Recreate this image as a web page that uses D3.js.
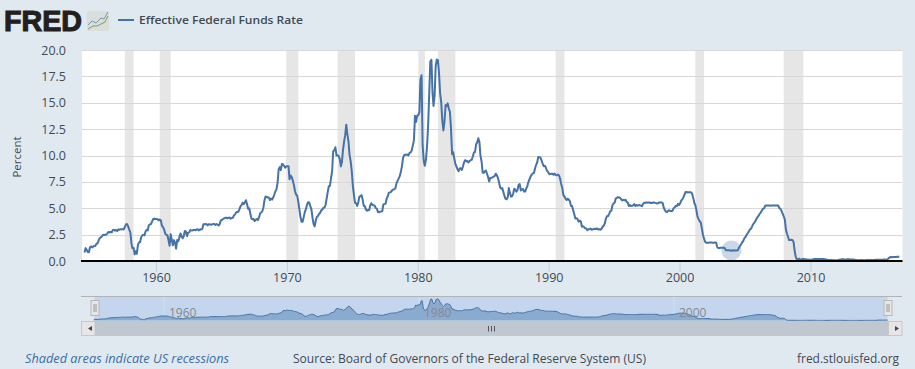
<!DOCTYPE html>
<html><head><meta charset="utf-8">
<script src="https://cdn.jsdelivr.net/npm/d3@7"></script>
<style>html,body{margin:0;padding:0;background:#e1e9f0;overflow:hidden}svg{display:block}text{font-family:"Open Sans",sans-serif}</style>
</head><body><div id="c"></div>
<script>
const seriesName = "Effective Federal Funds Rate";
const startMonth = "1954-07";
const rate = [
0.80,1.22,1.06,0.85,0.83,1.28,
1.39,1.29,1.35,1.43,1.43,1.64,1.68,1.96,2.18,2.24,2.35,2.48,
2.45,2.50,2.50,2.62,2.75,2.71,2.75,2.73,2.95,2.96,2.88,2.94,
2.84,3.00,2.96,3.00,3.00,3.00,2.99,3.24,3.47,3.50,3.28,2.98,
2.72,1.67,1.20,1.26,0.63,0.93,0.68,1.53,1.76,1.80,2.27,2.42,
2.48,2.43,2.80,2.96,2.90,3.39,3.47,3.50,3.76,3.98,4.00,3.99,
3.99,3.97,3.84,3.92,3.85,3.32,3.23,2.98,2.60,2.47,2.44,1.98,
1.45,2.54,2.02,1.49,1.98,1.73,1.17,2.00,1.88,2.26,2.61,2.33,
2.15,2.37,2.85,2.78,2.36,2.68,2.71,2.93,2.90,2.90,2.94,2.93,
2.91,3.00,2.98,2.90,3.00,2.99,3.02,3.49,3.48,3.50,3.48,3.38,
3.48,3.48,3.43,3.47,3.50,3.50,3.42,3.50,3.45,3.36,3.52,3.85,
3.90,3.98,4.04,4.09,4.10,4.05,4.09,4.12,4.01,4.08,4.10,4.32,
4.42,4.60,4.65,4.67,4.90,5.17,5.30,5.53,5.40,5.53,5.76,5.40,
4.94,5.00,4.53,4.05,3.94,3.98,3.79,3.90,3.99,3.88,4.13,4.51,
4.61,4.71,5.05,5.76,6.11,6.07,6.02,6.03,5.78,5.91,5.82,6.02,
6.30,6.61,6.79,7.41,8.67,8.90,8.61,9.19,9.15,9.00,8.85,8.97,
8.98,8.98,7.76,8.10,7.95,7.61,7.21,6.61,6.29,6.20,5.60,4.90,
4.14,3.72,3.71,4.16,4.63,4.91,5.31,5.57,5.55,5.20,4.91,4.14,
3.50,3.29,3.83,4.17,4.27,4.46,4.55,4.80,4.87,5.04,5.06,5.33,
5.94,6.58,7.09,7.12,7.84,8.49,10.40,10.50,10.78,10.01,10.03,9.95,
9.65,8.97,9.35,10.51,11.31,11.93,12.92,12.01,11.34,10.06,9.45,8.53,
7.13,6.24,5.54,5.49,5.22,5.55,6.10,6.14,6.24,5.82,5.22,5.20,
4.87,4.77,4.84,4.82,5.29,5.48,5.31,5.29,5.25,5.02,4.95,4.65,
4.61,4.68,4.69,4.73,5.35,5.39,5.42,5.90,6.14,6.47,6.51,6.56,
6.70,6.78,6.79,6.89,7.36,7.60,7.81,8.04,8.45,8.96,9.76,10.03,
10.07,10.06,10.09,10.01,10.24,10.29,10.47,10.94,11.43,13.77,13.18,13.78,
13.82,14.13,17.19,17.61,10.98,9.47,9.03,9.61,10.87,12.81,15.85,18.90,
19.08,15.93,14.70,15.72,18.52,19.10,19.04,17.82,15.87,15.08,13.31,12.37,
13.22,14.78,14.68,14.94,14.45,14.15,12.59,10.12,10.31,9.71,9.20,8.95,
8.68,8.51,8.77,8.80,8.63,8.98,9.37,9.56,9.45,9.48,9.34,9.47,
9.56,9.59,9.91,10.29,10.32,11.06,11.23,11.64,11.30,9.99,9.43,8.38,
8.35,8.50,8.58,8.27,7.97,7.53,7.88,7.90,7.92,7.99,8.05,8.27,
8.14,7.86,7.48,6.99,6.85,6.92,6.56,6.17,5.89,5.85,6.04,6.91,
6.43,6.10,6.13,6.37,6.85,6.73,6.58,6.73,7.22,7.29,6.69,6.77,
6.83,6.58,6.58,6.87,7.09,7.51,7.75,8.01,8.19,8.30,8.35,8.76,
9.12,9.36,9.85,9.84,9.81,9.53,9.24,8.99,9.02,8.84,8.55,8.45,
8.23,8.24,8.28,8.26,8.18,8.29,8.15,8.13,8.20,8.11,7.81,7.31,
6.91,6.25,6.12,5.91,5.78,5.90,5.82,5.66,5.22,5.21,4.81,4.43,
4.03,4.06,3.98,3.73,3.82,3.76,3.25,3.30,3.22,3.10,3.09,2.92,
3.02,3.03,3.07,2.96,3.00,3.04,3.06,3.03,3.09,2.99,3.02,2.96,
3.05,3.25,3.34,3.56,4.01,4.25,4.26,4.47,4.73,4.76,5.29,5.45,
5.53,5.92,5.98,6.05,6.01,6.00,5.85,5.74,5.80,5.76,5.80,5.60,
5.56,5.22,5.31,5.22,5.24,5.27,5.40,5.22,5.30,5.24,5.31,5.29,
5.25,5.19,5.39,5.51,5.50,5.56,5.52,5.54,5.54,5.50,5.52,5.50,
5.56,5.51,5.49,5.45,5.49,5.56,5.54,5.55,5.51,5.07,4.83,4.68,
4.63,4.76,4.81,4.74,4.74,4.76,4.99,5.07,5.22,5.20,5.42,5.30,
5.45,5.73,5.85,6.02,6.27,6.53,6.54,6.50,6.52,6.51,6.51,6.40,
5.98,5.49,5.31,4.80,4.21,3.97,3.77,3.65,3.07,2.49,2.09,1.82,
1.73,1.74,1.73,1.75,1.75,1.75,1.73,1.74,1.75,1.75,1.34,1.24,
1.24,1.26,1.25,1.26,1.26,1.22,1.01,1.03,1.01,1.01,1.00,0.98,
1.00,1.01,1.00,1.00,1.00,1.03,1.26,1.43,1.61,1.76,1.93,2.16,
2.28,2.50,2.63,2.79,3.00,3.04,3.26,3.50,3.62,3.78,4.00,4.16,
4.29,4.49,4.59,4.79,4.94,4.99,5.24,5.25,5.25,5.25,5.25,5.24,
5.25,5.26,5.26,5.25,5.25,5.25,5.26,5.02,4.94,4.76,4.49,4.24,
3.94,2.98,2.61,2.28,1.98,2.00,2.01,2.00,1.81,0.97,0.39,0.16,
0.15,0.22,0.18,0.15,0.18,0.21,0.16,0.16,0.15,0.12,0.12,0.12,
0.11,0.13,0.16,0.20,0.20,0.18,0.18,0.19,0.19,0.19,0.19,0.18,
0.17,0.16,0.14,0.10,0.09,0.09,0.07,0.10,0.08,0.07,0.08,0.07,
0.08,0.10,0.13,0.14,0.16,0.16,0.16,0.13,0.14,0.16,0.16,0.16,
0.14,0.15,0.14,0.15,0.11,0.09,0.09,0.08,0.08,0.09,0.08,0.09,
0.07,0.07,0.08,0.09,0.09,0.10,0.09,0.09,0.09,0.09,0.09,0.12,
0.11,0.11,0.11,0.12,0.12,0.13,0.13,0.14,0.14,0.12,0.12,0.24,
0.34,0.38,0.36,0.37,0.37,0.38,0.39,0.40,0.40,0.40
];
const recessionStarts = ["1957-08","1960-04","1969-12","1973-11","1980-01","1981-07","1990-07","2001-03","2007-12"];
const recessionEnds   = ["1958-04","1961-02","1970-11","1975-03","1980-07","1982-11","1991-03","2001-11","2009-06"];
const yTicks = [0,2.5,5,7.5,10,12.5,15,17.5,20];
const xTickYears = [1960,1970,1980,1990,2000,2010];
const navTickYears = [1960,1980,2000];
const hoverMonth = "2003-12", hoverValue = 1.0;

const W=915,H=369, parse=d3.timeParse("%Y-%m");
const start=parse(startMonth);
const data=rate.map((v,i)=>({d:d3.timeMonth.offset(start,i),v}));
const yr=y=>new Date(y,0,1);
const svg=d3.select("#c").append("svg").attr("width",W).attr("height",H);
const ink="#3f4a55", blue="#4572a7";

// main plot
const x=d3.scaleTime().domain([yr(1960),yr(2010)]).range([156.5,811]);
const y=d3.scaleLinear().domain([0,20]).range([261,50]);
const L=82,R=902.5;
svg.append("rect").attr("x",L).attr("y",50).attr("width",R-L).attr("height",211).attr("fill","#fff");
const rec=recessionStarts.map((s,i)=>[parse(s),parse(recessionEnds[i])]);
svg.selectAll(".rec").data(rec).join("rect").attr("x",d=>x(d[0])).attr("y",50)
  .attr("width",d=>x(d[1])-x(d[0])).attr("height",211).attr("fill","#e6e6e6");
svg.selectAll(".gl").data(yTicks.filter(t=>t>0)).join("line").attr("x1",L).attr("x2",R)
  .attr("y1",d=>Math.round(y(d))+.5).attr("y2",d=>Math.round(y(d))+.5).attr("stroke","#d8d8d8");
svg.selectAll(".yl").data(yTicks).join("text").attr("x",66).attr("y",d=>y(d)+4.5).attr("text-anchor","end")
  .attr("font-size",12.5).attr("fill",ink).text(d=>d.toFixed(1));
svg.append("text").attr("transform","translate(21,157) rotate(-90)").attr("text-anchor","middle")
  .attr("font-size",11.5).attr("fill",ink).text("Percent");
svg.selectAll(".xt").data(xTickYears).join("line").attr("x1",d=>x(yr(d))).attr("x2",d=>x(yr(d)))
  .attr("y1",262).attr("y2",272).attr("stroke","#c0d0e0");
svg.selectAll(".xl").data(xTickYears).join("text").attr("x",d=>x(yr(d))).attr("y",282).attr("text-anchor","middle")
  .attr("font-size",12.5).attr("fill",ink).text(d=>d);
svg.append("circle").attr("cx",x(parse(hoverMonth))).attr("cy",y(hoverValue)).attr("r",10).attr("fill","#c9d7e6");
const line=d3.line().x(d=>x(d.d)).y(d=>y(d.v));
svg.append("path").datum(data).attr("d",line).attr("fill","none").attr("stroke",blue).attr("stroke-width",2).attr("stroke-linejoin","round");
svg.append("line").attr("x1",L-1).attr("x2",R).attr("y1",261).attr("y2",261).attr("stroke","#000").attr("stroke-width",2);

// header
svg.append("text").attr("x",4).attr("y",31).attr("font-size",29).attr("font-weight",700)
  .attr("textLength",78).attr("lengthAdjust","spacingAndGlyphs")
  .style("font-family","'Liberation Sans',sans-serif").style("stroke","#231f20").style("stroke-width",1.1).attr("fill","#231f20").text("FRED");
const icon=svg.append("g").attr("transform","translate(87,11)");
icon.append("rect").attr("width",22).attr("height",20).attr("rx",2).attr("fill","#d9dedd");
icon.append("path").attr("d","M1 14L5 10L9 12L14 7L17 8L21 1").attr("fill","none").attr("stroke","#7a97ac").attr("stroke-width",1);
icon.append("path").attr("d","M1 18L6 15L10 15L14 13L18 11L21 5").attr("fill","none").attr("stroke","#7f9f5a").attr("stroke-width",1);
svg.append("line").attr("x1",118).attr("x2",134).attr("y1",20).attr("y2",20).attr("stroke",blue).attr("stroke-width",2);
svg.append("text").attr("x",139).attr("y",24).attr("font-size",11.5).attr("font-weight",600).attr("fill",ink)
  .attr("textLength",164).attr("lengthAdjust","spacingAndGlyphs").text(seriesName);

// navigator
const nx=d3.scaleTime().domain([yr(1960),yr(2000)]).range([164,674]);
const ny=d3.scaleLinear().domain([0,20]).range([320.5,298]);
svg.append("rect").attr("x",94.5).attr("y",296.5).attr("width",793).attr("height",24).attr("fill","#c3d6ee");
svg.append("line").attr("x1",81).attr("x2",902).attr("y1",296.5).attr("y2",296.5).attr("stroke","#b3b3b8");
svg.selectAll(".ng").data(navTickYears).join("line").attr("x1",d=>nx(yr(d))).attr("x2",d=>nx(yr(d)))
  .attr("y1",297).attr("y2",320).attr("stroke","#d3e0f0");
const area=d3.area().x(d=>nx(d.d)).y0(320.5).y1(d=>ny(d.v));
svg.append("path").datum(data).attr("d",area).attr("fill","#8aabd0");
svg.append("path").datum(data).attr("d",d3.line().x(d=>nx(d.d)).y(d=>ny(d.v))).attr("fill","none").attr("stroke",blue).attr("stroke-width",1);
svg.selectAll(".nl").data(navTickYears).join("text").attr("x",d=>nx(yr(d))+5).attr("y",317)
  .attr("font-size",12).attr("fill","#85888c").text(d=>d);
// scrollbar
svg.append("rect").attr("x",81).attr("y",321).attr("width",821).attr("height",14).attr("fill","#bfc7d1");
svg.append("line").attr("x1",81).attr("x2",902).attr("y1",335.5).attr("y2",335.5).attr("stroke","#c4c8cc");
[[81,"M92 326L88 328.5L92 331Z"],[888,"M895 326L899 328.5L895 331Z"]].forEach(b=>{
  svg.append("rect").attr("x",b[0]+.5).attr("y",321.5).attr("width",13.5).attr("height",14).attr("fill","#e6e6e6").attr("stroke","#c8c8c8");
  svg.append("path").attr("d",b[1]).attr("fill","#444");
});
svg.append("path").attr("d","M488.5 326V331.5M491.5 326V331.5M494.5 326V331.5").attr("stroke","#555").attr("fill","none");
[94.5,887.5].forEach(c=>{
  svg.append("rect").attr("x",c-3.5).attr("y",300.5).attr("width",8).attr("height",15).attr("fill","#e6e6e6").attr("stroke","#b8b8b8");
  svg.append("path").attr("d",`M${c-.5} 304V312M${c+1.5} 304V312`).attr("stroke","#999").attr("fill","none");
});

// footer
svg.append("text").attr("x",25).attr("y",363).attr("font-size",12.75).attr("font-style","italic").attr("fill","#3b6ea5").text("Shaded areas indicate US recessions");
svg.append("text").attr("x",293).attr("y",363).attr("font-size",12.5).attr("fill",ink)
  .attr("textLength",353).attr("lengthAdjust","spacingAndGlyphs").text("Source: Board of Governors of the Federal Reserve System (US)");
svg.append("text").attr("x",899).attr("y",363).attr("text-anchor","end").attr("font-size",12.5).attr("fill",ink)
  .attr("textLength",102).attr("lengthAdjust","spacingAndGlyphs").text("fred.stlouisfed.org");
</script></body></html>
